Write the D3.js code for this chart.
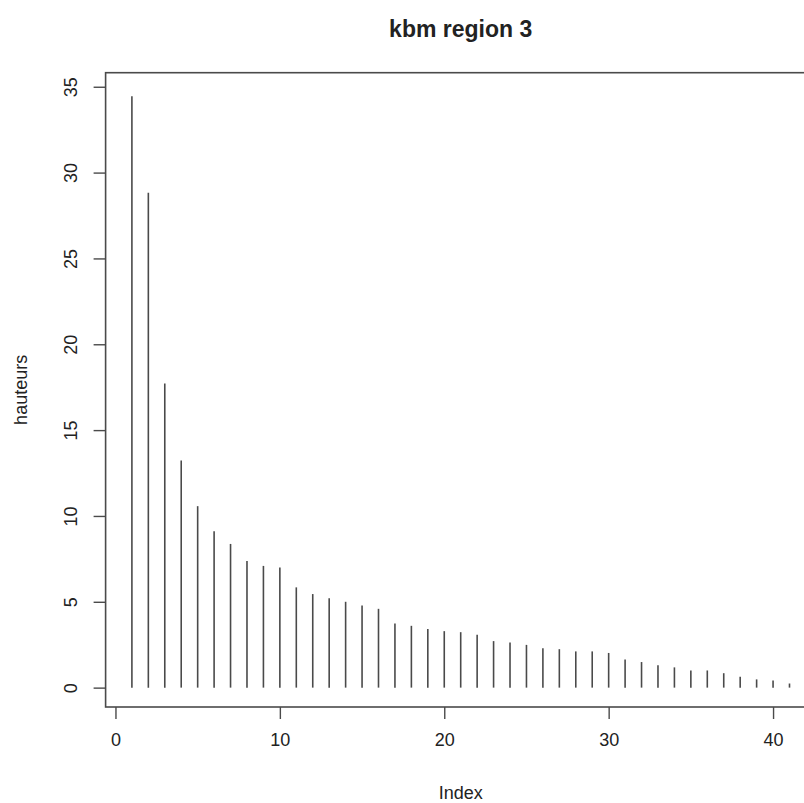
<!DOCTYPE html>
<html>
<head>
<meta charset="utf-8">
<script src="https://cdn.jsdelivr.net/npm/d3@7"></script>
<style>
  html, body { margin: 0; padding: 0; background: #fff; }
  svg { display: block; }
  text { font-family: "Liberation Sans", Arial, sans-serif; fill: #222; }
</style>
</head>
<body>
<script>
// ---- data ----
const title = "kbm region 3";
const xLabel = "Index";
const yLabel = "hauteurs";
const indices = d3.range(1, 42);
const hauteurs = [
  34.45, 28.82, 17.72, 13.23, 10.57, 9.11, 8.37, 7.38, 7.09, 7.00,
  5.84, 5.45, 5.20, 5.00, 4.79, 4.59, 3.74, 3.60, 3.42, 3.29,
  3.23, 3.08, 2.71, 2.63, 2.49, 2.30, 2.24, 2.11, 2.11, 2.02,
  1.64, 1.49, 1.31, 1.18, 1.00, 1.00, 0.84, 0.63, 0.48, 0.42,
  0.24
];
const xTicks = [0, 10, 20, 30, 40];
const yTicks = [0, 5, 10, 15, 20, 25, 30, 35];

// ---- layout ----
const W = 804, H = 803;
const pLeft = 105.6, pRight = 815.8, pTop = 72.7, pBottom = 707;

const pad = (ext) => { const d = (ext[1] - ext[0]) * 0.04; return [ext[0] - d, ext[1] + d]; };
const x = d3.scaleLinear().domain(pad(d3.extent(indices))).range([pLeft, pRight]);
const y = d3.scaleLinear().domain(pad(d3.extent(hauteurs))).range([pBottom, pTop]);

const svg = d3.select("body").append("svg").attr("width", W).attr("height", H);
const stroke = "#4a4a4a";

// bars (type = "h")
svg.append("g").selectAll("line").data(indices).join("line")
  .attr("x1", (d) => x(d)).attr("x2", (d) => x(d))
  .attr("y1", y(0)).attr("y2", (d, i) => y(hauteurs[i]))
  .attr("stroke", stroke).attr("stroke-width", 1.6);

// box
svg.append("rect")
  .attr("x", pLeft).attr("y", pTop)
  .attr("width", pRight - pLeft).attr("height", pBottom - pTop)
  .attr("fill", "none").attr("stroke", stroke).attr("stroke-width", 1.6);

// x axis
const xAxis = d3.axisBottom(x).tickValues(xTicks).tickSize(12).tickPadding(14).tickFormat(d3.format("d"));
const gx = svg.append("g").attr("transform", `translate(0,${pBottom})`).call(xAxis);
gx.select(".domain").remove();
gx.selectAll(".tick line").attr("stroke", stroke).attr("stroke-width", 1.4);
gx.selectAll(".tick text").attr("font-size", 18).attr("fill", "#222")
  .attr("font-family", "Liberation Sans, Arial, sans-serif");

// y axis
const yAxis = d3.axisLeft(y).tickValues(yTicks).tickSize(12).tickFormat(d3.format("d"));
const gy = svg.append("g").attr("transform", `translate(${pLeft},0)`).call(yAxis);
gy.select(".domain").remove();
gy.selectAll(".tick line").attr("stroke", stroke).attr("stroke-width", 1.4);
gy.selectAll(".tick text")
  .attr("font-size", 18).attr("fill", "#222")
  .attr("font-family", "Liberation Sans, Arial, sans-serif")
  .attr("x", null)
  .attr("text-anchor", "middle")
  .attr("transform", "translate(-35,0) rotate(-90)")
  .attr("dy", "0.35em")
  .attr("y", 0);

// title
svg.append("text")
  .attr("x", (pLeft + pRight) / 2).attr("y", 37)
  .attr("text-anchor", "middle")
  .attr("font-size", 23).attr("font-weight", "bold").attr("fill", "#111")
  .text(title);

// x label
svg.append("text")
  .attr("x", (pLeft + pRight) / 2).attr("y", 799)
  .attr("text-anchor", "middle")
  .attr("font-size", 18)
  .text(xLabel);

// y label
svg.append("text")
  .attr("transform", `translate(27,${(pTop + pBottom) / 2}) rotate(-90)`)
  .attr("text-anchor", "middle")
  .attr("font-size", 18)
  .text(yLabel);
</script>
</body>
</html>
